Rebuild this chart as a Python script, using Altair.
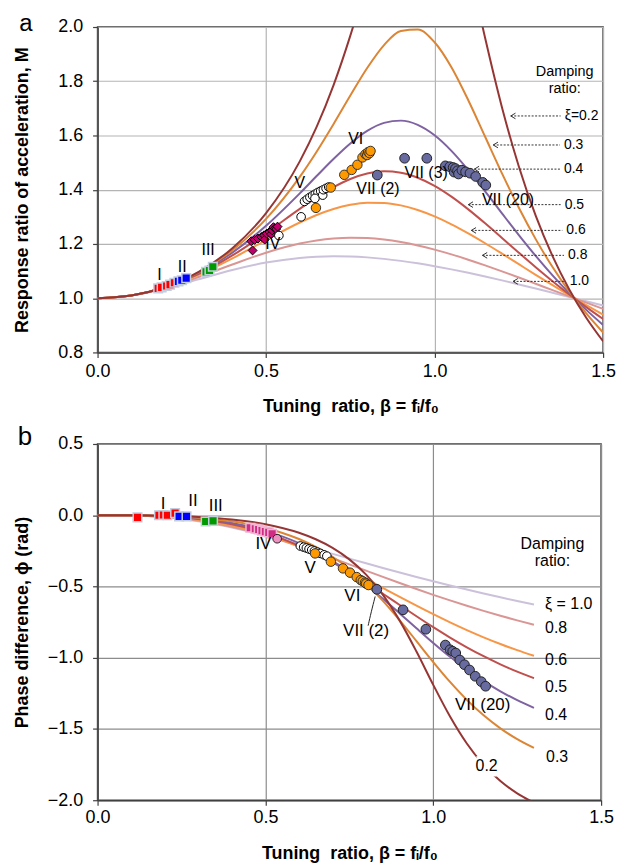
import altair as alt
import pandas as pd

FONT = "Liberation Sans"

# ---------------- curves ----------------
xi_labels = ["1.0", "0.8", "0.6", "0.5", "0.4", "0.3", "0.2"]
curve_colors = ["#CCC1DA", "#D99694", "#F79646", "#C0504D", "#7E62A1", "#DB8535", "#963634"]

beta_a = [0, 0.1, 0.2, 0.3, 0.4, 0.5, 0.6, 0.65, 0.7, 0.75, 0.8, 0.85, 0.9, 0.95,
          1.0, 1.05, 1.1, 1.15, 1.2, 1.25, 1.3, 1.35, 1.4, 1.45, 1.5]
M_02 = [1.0, 1.010, 1.0414, 1.0973, 1.1843, 1.3138, 1.5046, 1.6315, 1.7849, 1.9681, 2.1798, 2.4067, 2.6110, 2.7269,
        2.6926, 2.5088, 2.2409, 1.9593, 1.7035, 1.4856, 1.3045, 1.1551, 1.0313, 0.9280, 0.8411]
M_03 = [1.0, 1.010, 1.0410, 1.0953, 1.1772, 1.2925, 1.4474, 1.5403, 1.6417, 1.7472, 1.8487, 1.9334, 1.9853, 1.9905,
        1.9437, 1.8517, 1.7299, 1.5952, 1.4603, 1.3333, 1.2178, 1.1148, 1.0238, 0.9438, 0.8734]
M_04 = [1.0, 1.010, 1.0406, 1.0927, 1.1681, 1.2671, 1.3865, 1.4504, 1.5132, 1.5705, 1.6169, 1.6465, 1.6548, 1.6392,
        1.6008, 1.5433, 1.4724, 1.3938, 1.3127, 1.2326, 1.1560, 1.0842, 1.0179, 0.9570, 0.9015]
M_05 = [1.0, 1.010, 1.0400, 1.0896, 1.1576, 1.2403, 1.3293, 1.3717, 1.4094, 1.4396, 1.4598, 1.4678, 1.4626, 1.4443,
        1.4142, 1.3744, 1.3275, 1.2760, 1.2221, 1.1678, 1.1144, 1.0628, 1.0135, 0.9670, 0.9233]
M_06 = [1.0, 1.010, 1.0393, 1.0860, 1.1465, 1.2142, 1.2791, 1.3067, 1.3290, 1.3444, 1.3520, 1.3513, 1.3422, 1.3254,
        1.3017, 1.2725, 1.2390, 1.2026, 1.1643, 1.1253, 1.0863, 1.0479, 1.0104, 0.9743, 0.9396]
M_08 = [1.0, 1.010, 1.0376, 1.0781, 1.1243, 1.1678, 1.2015, 1.2128, 1.2201, 1.2230, 1.2216, 1.2162, 1.2070, 1.1946,
        1.1792, 1.1616, 1.1420, 1.1210, 1.0990, 1.0763, 1.0531, 1.0298, 1.0066, 0.9835, 0.9608]
M_10 = [1.0, 1.0097, 1.0356, 1.0699, 1.1040, 1.1314, 1.1486, 1.1530, 1.1547, 1.1538, 1.1505, 1.1450, 1.1376, 1.1286,
        1.1180, 1.1063, 1.0935, 1.0799, 1.0656, 1.0508, 1.0356, 1.0201, 1.0045, 0.9887, 0.9730]

beta_b = [0, 0.1, 0.2, 0.3, 0.4, 0.5, 0.6, 0.65, 0.7, 0.75, 0.8, 0.85, 0.9, 0.95,
          1.0, 1.05, 1.1, 1.15, 1.2, 1.25, 1.3]
P_02 = [0, -0.0004, -0.0033, -0.0117, -0.0296, -0.0632, -0.1232, -0.1687, -0.2291, -0.3096, -0.4170, -0.5585, -0.7396,
        -0.9565, -1.1903, -1.4125, -1.6016, -1.7511, -1.8652, -1.9513, -2.0163]
P_03 = [0, -0.0006, -0.0049, -0.0172, -0.0428, -0.0890, -0.1668, -0.2221, -0.2912, -0.3766, -0.4798, -0.6009, -0.7373,
        -0.8833, -1.0304, -1.1699, -1.2955, -1.4040, -1.4953, -1.5708, -1.6326]
P_04 = [0, -0.0008, -0.0065, -0.0223, -0.0543, -0.1095, -0.1960, -0.2535, -0.3216, -0.4003, -0.4891, -0.5862, -0.6888,
        -0.7933, -0.8961, -0.9936, -1.0834, -1.1642, -1.2356, -1.2978, -1.3516]
P_05 = [0, -0.0010, -0.0080, -0.0270, -0.0639, -0.1244, -0.2127, -0.2680, -0.3304, -0.3992, -0.4732, -0.5507, -0.6299,
        -0.7088, -0.7854, -0.8583, -0.9265, -0.9892, -1.0462, -1.0976, -1.1436]
P_06 = [0, -0.0012, -0.0094, -0.0312, -0.0716, -0.1343, -0.2201, -0.2711, -0.3265, -0.3855, -0.4470, -0.5099, -0.5728,
        -0.6348, -0.6947, -0.7520, -0.8061, -0.8566, -0.9035, -0.9468, -0.9865]
P_08 = [0, -0.0016, -0.0121, -0.0379, -0.0818, -0.1429, -0.2178, -0.2589, -0.3016, -0.3451, -0.3890, -0.4327, -0.4758,
        -0.5178, -0.5586, -0.5978, -0.6355, -0.6713, -0.7055, -0.7378, -0.7685]
P_10 = [0, -0.0019, -0.0143, -0.0425, -0.0863, -0.1419, -0.2048, -0.2377, -0.2709, -0.3042, -0.3373, -0.3699, -0.4019,
        -0.4332, -0.4636, -0.4932, -0.5218, -0.5494, -0.5761, -0.6018, -0.6266]

M_series = [M_10, M_08, M_06, M_05, M_04, M_03, M_02]
P_series = [P_10, P_08, P_06, P_05, P_04, P_03, P_02]

# ---------------- measured points, panel a ----------------
aI_b = [0.180, 0.190, 0.205, 0.215, 0.228]
aI_m = [1.036, 1.040, 1.045, 1.050, 1.057]
aII_b = [0.240, 0.250, 0.263]
aII_m = [1.062, 1.066, 1.074]
aIII_b = [0.322, 0.332, 0.342]
aIII_m = [1.097, 1.102, 1.116]
aIV_b = [0.460, 0.456, 0.466, 0.476, 0.486, 0.494, 0.496, 0.502, 0.510, 0.515, 0.518, 0.522, 0.526, 0.530, 0.534]
aIV_m = [1.176, 1.210, 1.215, 1.220, 1.226, 1.232, 1.216, 1.238, 1.244, 1.236, 1.250, 1.262, 1.257, 1.255, 1.264]
aIVo_b = [0.538]
aIVo_m = [1.231]
aV_b = [0.604, 0.614, 0.622, 0.630, 0.638, 0.646, 0.654, 0.662, 0.668, 0.670, 0.678, 0.686, 0.645]
aV_m = [1.300, 1.357, 1.365, 1.372, 1.378, 1.384, 1.390, 1.395, 1.380, 1.400, 1.405, 1.410, 1.368]
aVI_b = [0.648, 0.692, 0.732, 0.754, 0.771, 0.786, 0.795, 0.800, 0.803, 0.807, 0.810]
aVI_m = [1.333, 1.408, 1.455, 1.473, 1.492, 1.519, 1.531, 1.528, 1.539, 1.535, 1.543]
aVII_b = [0.830, 0.911, 0.977, 1.032, 1.045, 1.055, 1.058, 1.062, 1.068, 1.071, 1.081, 1.092, 1.105, 1.122, 1.143, 1.152]
aVII_m = [1.454, 1.516, 1.516, 1.488, 1.485, 1.482, 1.465, 1.478, 1.470, 1.458, 1.472, 1.466, 1.461, 1.449, 1.427, 1.417]

# ---------------- measured points, panel b ----------------
bI_b = [0.119, 0.183, 0.196, 0.208, 0.231]
bI_p = [-0.015, 0.000, 0.002, 0.000, 0.015]
bII_b = [0.243, 0.265]
bII_p = [-0.008, -0.008]
bIII_b = [0.322, 0.344]
bIII_p = [-0.044, -0.040]
bIV_b = [0.455, 0.470, 0.480, 0.490, 0.500, 0.510, 0.520]
bIV_p = [-0.088, -0.095, -0.100, -0.108, -0.115, -0.120, -0.130]
bIVc_b = [0.535]
bIVc_p = [-0.165]
bV_b = [0.604, 0.614, 0.622, 0.630, 0.638, 0.646, 0.655, 0.664, 0.675, 0.683]
bV_p = [-0.216, -0.224, -0.230, -0.237, -0.244, -0.251, -0.259, -0.268, -0.278, -0.287]
bVI_b = [0.648, 0.695, 0.731, 0.752, 0.772, 0.784, 0.790, 0.797, 0.800, 0.807]
bVI_p = [-0.268, -0.326, -0.373, -0.403, -0.434, -0.455, -0.463, -0.473, -0.480, -0.490]
bVII_b = [0.832, 0.910, 0.978, 1.036, 1.050, 1.058, 1.067, 1.079, 1.093, 1.108, 1.125, 1.143, 1.156]
bVII_p = [-0.520, -0.664, -0.800, -0.911, -0.944, -0.955, -0.967, -1.016, -1.049, -1.086, -1.130, -1.168, -1.200]

# ---------------- annotations ----------------
a_grp_text = ["I", "II", "III", "IV", "V", "VI", "VII (2)", "VII (3)", "VII (20)"]
a_grp_x = [0.184, 0.251, 0.328, 0.520, 0.600, 0.766, 0.832, 0.975, 1.218]
a_grp_y = [1.084, 1.115, 1.176, 1.200, 1.423, 1.586, 1.403, 1.461, 1.362]

a_xi_text = ["ξ=0.2", "0.3", "0.4", "0.5", "0.6", "0.8", "1.0"]
a_xi_x = [1.386, 1.384, 1.384, 1.386, 1.391, 1.396, 1.401]
a_xi_y = [1.672, 1.565, 1.476, 1.345, 1.250, 1.158, 1.062]
a_arrow_tip = [1.226, 1.174, 1.118, 1.100, 1.109, 1.142, 1.233]
a_arrow_end = [1.374, 1.372, 1.372, 1.374, 1.379, 1.384, 1.389]
a_damp_text = ["Damping", "ratio:"]
a_damp_x = [1.386, 1.386]
a_damp_y = [1.834, 1.773]

b_grp_text = ["I", "II", "III", "IV", "V", "VI", "VII (2)", "VII (20)"]
b_grp_x = [0.195, 0.284, 0.352, 0.494, 0.633, 0.759, 0.800, 1.147]
b_grp_y = [0.082, 0.098, 0.063, -0.205, -0.368, -0.565, -0.811, -1.331]
b_xi_text = ["ξ = 1.0", "0.8", "0.6", "0.5", "0.4", "0.3"]
b_xi_x = [1.333, 1.333, 1.333, 1.333, 1.333, 1.336]
b_xi_y = [-0.624, -0.795, -1.016, -1.203, -1.401, -1.697]
b_xi02_x = [1.159]
b_xi02_y = [-1.762]
b_damp_text = ["Damping", "ratio:"]
b_damp_x = [1.355, 1.355]
b_damp_y = [-0.205, -0.322]
b_leader_x = [0.806, 0.815, 0.827]
b_leader_y = [-0.775, -0.680, -0.570]

XTITLE = "Tuning\u00a0 ratio, β = fᵢ/f₀"

W_A, H_A = 508, 327
W_B, H_B = 506, 358


def curves_df(betas, series, key):
    rows = []
    for lab, vals in zip(xi_labels, series):
        for b, v in zip(betas, vals):
            rows.append({"beta": b, key: v, "xi": lab})
    return pd.DataFrame(rows)


def make_panel(key, betas, series, ydomain, yvalues, yt, W, H, xlabpad, gridc):
    X = alt.X("beta:Q", scale=alt.Scale(domain=[0, 1.5], nice=False, zero=False),
              axis=alt.Axis(values=[0, 0.5, 1.0, 1.5], format=".1f", title=XTITLE,
                            titleY=59, titleBaseline="alphabetic", labelPadding=xlabpad,
                            tickSize=5, grid=True, labelFlush=False, gridColor=gridc))
    Y = alt.Y(f"{key}:Q", scale=alt.Scale(domain=ydomain, nice=False, zero=False),
              axis=alt.Axis(values=yvalues, format=".1f", title=yt, titleX=-75, titleY=H / 2,
                            titleAlign="center", titleBaseline="middle", titleAngle=-90,
                            labelPadding=10, tickSize=5, grid=True, labelFlush=False, gridColor=gridc))
    lines = alt.Chart(curves_df(betas, series, key)).mark_line(
        clip=True, strokeWidth=2, interpolate="monotone").encode(
        x=X, y=Y,
        color=alt.Color("xi:N", scale=alt.Scale(domain=xi_labels, range=curve_colors), legend=None),
        detail="xi:N")
    return X, Y, lines


def pts(bs, vs, key, X, Y, shape, fill, stroke, size, sw=1.0):
    df = pd.DataFrame({"beta": bs, key: vs})
    return alt.Chart(df).mark_point(shape=shape, filled=True, fill=fill, stroke=stroke, size=size,
                                    strokeWidth=sw, opacity=1).encode(x=X, y=Y)


def texts(ts, xs, ys, key, X, Y, size, align="center", weight="normal"):
    df = pd.DataFrame({"t": ts, "beta": xs, key: ys})
    return alt.Chart(df).mark_text(font=FONT, fontSize=size, align=align, baseline="middle",
                                   color="black", fontWeight=weight).encode(x=X, y=Y, text="t:N")


# ---------------- panel a ----------------
Xa, Ya, lines_a = make_panel("M", beta_a, M_series, [0.8, 2.0], [0.8, 1.0, 1.2, 1.4, 1.6, 1.8, 2.0],
                             "Response ratio of acceleration, M", W_A, H_A, 5, "#B4B4B4")
light = "#C3CEDF"
layers_a = [
    lines_a,
    pts(aI_b, aI_m, "M", Xa, Ya, "square", "#FF0000", light, 75, 1.5),
    pts(aII_b, aII_m, "M", Xa, Ya, "square", "#0000FF", light, 75, 1.5),
    pts(aIII_b, aIII_m, "M", Xa, Ya, "square", "#009A00", light, 75, 1.5),
    pts(aIV_b, aIV_m, "M", Xa, Ya, "diamond", "#C0006A", "#000000", 80, 1),
    pts(aIVo_b, aIVo_m, "M", Xa, Ya, "circle", "#FFFFFF", "#000000", 75, 1),
    pts(aV_b, aV_m, "M", Xa, Ya, "circle", "#FFFFFF", "#000000", 75, 1),
    pts(aVI_b, aVI_m, "M", Xa, Ya, "circle", "#FF9900", "#333333", 90, 1),
    pts(aVII_b, aVII_m, "M", Xa, Ya, "circle", "#676B9F", "#222222", 95, 1),
]
arrows_a = pd.DataFrame({"beta": a_arrow_tip, "beta2": a_arrow_end, "M": a_xi_y})
layers_a.append(alt.Chart(arrows_a).mark_rule(color="#333333", strokeWidth=1, strokeDash=[2, 1.5]).encode(
    x=Xa, x2="beta2:Q", y=Ya))
layers_a.append(alt.Chart(arrows_a).mark_point(shape="M 1 -0.6 L 0 0 L 1 0.6", filled=False, color="#333333",
                                               size=90, strokeWidth=1, opacity=1).encode(x=Xa, y=Ya))
layers_a.append(texts(a_grp_text, a_grp_x, a_grp_y, "M", Xa, Ya, 16))
layers_a.append(texts(a_xi_text, a_xi_x, a_xi_y, "M", Xa, Ya, 14, align="left"))
layers_a.append(texts(a_damp_text, a_damp_x, a_damp_y, "M", Xa, Ya, 14.5))
layers_a.append(alt.Chart(pd.DataFrame({"t": ["a"]})).mark_text(
    font=FONT, fontSize=24, align="center", baseline="alphabetic", color="black").encode(
    x=alt.value(-72), y=alt.value(4), text="t:N"))
panel_a = alt.layer(*layers_a).properties(width=W_A, height=H_A)

# ---------------- panel b ----------------
Xb, Yb, lines_b = make_panel("phi", beta_b, P_series, [-2.0, 0.5], [-2.0, -1.5, -1.0, -0.5, 0.0, 0.5],
                             "Phase difference, ϕ (rad)", W_B, H_B, 3, "#8C8C8C")
layers_b = [
    lines_b,
    pts(bI_b, bI_p, "phi", Xb, Yb, "square", "#FF0000", light, 75, 1.5),
    pts(bII_b, bII_p, "phi", Xb, Yb, "square", "#0000FF", light, 75, 1.5),
    pts(bIII_b, bIII_p, "phi", Xb, Yb, "square", "#009A00", light, 75, 1.5),
    pts(bIV_b, bIV_p, "phi", Xb, Yb, "square", "#D02C84", "#F2B6D4", 75, 1.5),
    pts(bIVc_b, bIVc_p, "phi", Xb, Yb, "circle", "#EE90C0", "#222222", 75, 1),
    pts(bV_b, bV_p, "phi", Xb, Yb, "circle", "#FFFFFF", "#000000", 75, 1),
    pts(bVI_b, bVI_p, "phi", Xb, Yb, "circle", "#FF9900", "#333333", 90, 1),
    pts(bVII_b, bVII_p, "phi", Xb, Yb, "circle", "#676B9F", "#222222", 95, 1),
]
leader = pd.DataFrame({"beta": b_leader_x, "phi": b_leader_y})
layers_b.append(alt.Chart(leader).mark_line(color="#222222", strokeWidth=1, interpolate="basis").encode(x=Xb, y=Yb))
layers_b.append(pts(b_xi02_x, b_xi02_y, "phi", Xb, Yb, "square", "#FFFFFF", "#FFFFFF", 420, 0))
layers_b.append(texts(b_grp_text, b_grp_x, b_grp_y, "phi", Xb, Yb, 17))
layers_b.append(texts(b_xi_text, b_xi_x, b_xi_y, "phi", Xb, Yb, 16, align="left"))
layers_b.append(texts(["0.2"], b_xi02_x, b_xi02_y, "phi", Xb, Yb, 16))
layers_b.append(texts(b_damp_text, b_damp_x, b_damp_y, "phi", Xb, Yb, 16))
layers_b.append(alt.Chart(pd.DataFrame({"t": ["b"]})).mark_text(
    font=FONT, fontSize=26, align="center", baseline="alphabetic", color="black").encode(
    x=alt.value(-73), y=alt.value(1), text="t:N"))
panel_b = alt.layer(*layers_b).properties(width=W_B, height=H_B)

chart = alt.vconcat(panel_a, panel_b, spacing=92, bounds="flush").properties(
    padding={"left": 5, "top": 1, "right": 5, "bottom": 5}
).configure_axis(
    labelFont=FONT, titleFont=FONT, labelFontSize=18, titleFontSize=18, titleFontWeight="bold",
    labelColor="black", titleColor="black", domainColor="#404040", domainWidth=1.5,
    tickColor="#404040", tickWidth=1.2, gridWidth=1.2
).configure_view(stroke="#404040", strokeWidth=1.5)

chart.save("out.html", embed_options={"renderer": "svg", "actions": False})
